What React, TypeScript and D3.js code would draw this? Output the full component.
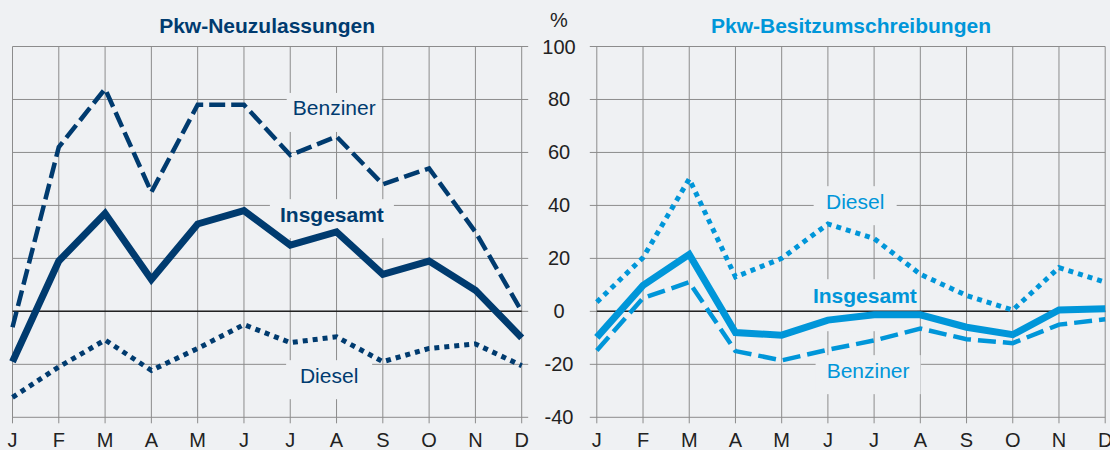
import React from 'react';
import * as d3 from 'd3';

const months = ['J', 'F', 'M', 'A', 'M', 'J', 'J', 'A', 'S', 'O', 'N', 'D'];
const yTicks = [-40, -20, 0, 20, 40, 60, 80, 100];

// Pkw-Neuzulassungen
const neuBenziner = [-6, 62, 84, 45, 78, 78, 59, 66, 48, 54, 30, 0];
const neuInsgesamt = [-19, 19, 37, 12, 33, 38, 25, 30, 14, 19, 8, -10];
const neuDiesel = [-32.5, -21, -10.8, -22.3, -14, -5, -11.8, -9.6, -19, -14, -12.3, -20.5];

// Pkw-Besitzumschreibungen
const besBenziner = [-14.8, 5, 11, -15, -18.5, -14.5, -11, -6.5, -10.5, -12, -5, -3];
const besInsgesamt = [-9.8, 9.8, 21.5, -8, -9, -3.3, -1.3, -1.3, -6, -8.8, 0.5, 1];
const besDiesel = [3.5, 20.3, 50, 13, 20, 33, 27.5, 14, 6, 0.5, 16.5, 11];

const NAVY = '#003b6f';
const CYAN = '#0096d9';
const BG = '#eff1f3';
const GRID = '#8c8c8c';
const FONT = '"Liberation Sans", Arial, Helvetica, sans-serif';

const W = 1110;
const H = 450;
const yTop = 46.5;
const yBottom = 417.3;

const y = d3.scaleLinear().domain([-40, 100]).range([yBottom, yTop]);

type Series = { values: number[]; dash?: string; width: number };
type Label = { text: string; at: [number, number]; bold?: boolean; boxW: number; boxTop?: number; boxBottom?: number };

type PanelProps = {
  x0: number;
  x1: number;
  color: string;
  title: string;
  series: Series[];
  labels: Label[];
  gridLeft: number;
  gridRight: number;
};

const Panel = ({ x0, x1, color, title, series, labels, gridLeft, gridRight }: PanelProps) => {
  const x = d3.scaleLinear().domain([0, 11]).range([x0, x1]);
  const line = d3
    .line<number>()
    .x((_, i) => x(i))
    .y(d => y(d));

  return (
    <g>
      <text
        x={(x0 + x1) / 2}
        y={33}
        textAnchor="middle"
        fontFamily={FONT}
        fontWeight="bold"
        fontSize={21}
        fill={color}
      >
        {title}
      </text>

      {/* Grid */}
      {yTicks.map(t => (
        <line key={'h' + t} x1={x0 - gridLeft} x2={x1 + gridRight} y1={y(t)} y2={y(t)} stroke={GRID} strokeWidth={1} />
      ))}
      {months.map((m, i) => (
        <line key={'v' + i} x1={x(i)} x2={x(i)} y1={y(100)} y2={y(-40) + 6} stroke={GRID} strokeWidth={1} />
      ))}

      {/* label boxes hide the grid */}
      {labels.map(l => {
        const cx = x(l.at[0]);
        const cy = y(l.at[1]);
        const top = cy - (l.boxTop ?? 15);
        const bottom = cy + (l.boxBottom ?? 24);
        return <rect key={'b' + l.text} x={cx - l.boxW / 2} y={top} width={l.boxW} height={bottom - top} fill={BG} />;
      })}

      <line x1={x0} x2={x1} y1={y(0)} y2={y(0)} stroke="#222" strokeWidth={1.5} />

      {series.map((s, i) => (
        <path
          key={i}
          d={line(s.values) || ''}
          fill="none"
          stroke={color}
          strokeWidth={s.width}
          strokeDasharray={s.dash}
          strokeLinejoin="miter"
          strokeLinecap="butt"
        />
      ))}

      {labels.map(l => (
        <text
          key={'t' + l.text}
          x={x(l.at[0])}
          y={y(l.at[1])}
          dy="0.35em"
          textAnchor="middle"
          fontFamily={FONT}
          fontSize={21}
          fontWeight={l.bold ? 'bold' : 'normal'}
          fill={color}
        >
          {l.text}
        </text>
      ))}

      {months.map((m, i) => (
        <text key={'m' + i} x={x(i)} y={447} textAnchor="middle" fontFamily={FONT} fontSize={20} fill="#222">
          {m}
        </text>
      ))}
    </g>
  );
};

export default function App() {
  return (
    <svg width={W} height={H} style={{ position: 'absolute', left: 0, top: 0, background: BG }}>
      <rect width={W} height={H} fill={BG} />
      <Panel
        x0={12.5}
        x1={521.7}
        color={NAVY}
        title="Pkw-Neuzulassungen"
        gridLeft={0}
        gridRight={6.5}
        series={[
          { values: neuBenziner, dash: '16,6', width: 4.5 },
          { values: neuDiesel, dash: '5,5', width: 5 },
          { values: neuInsgesamt, width: 7 },
        ]}
        labels={[
          { text: 'Benziner', at: [6.95, 76.8], boxW: 95 },
          { text: 'Insgesamt', at: [6.9, 36.7], bold: true, boxW: 124 },
          { text: 'Diesel', at: [6.84, -24.1], boxW: 86 },
        ]}
      />
      <Panel
        x0={596.8}
        x1={1105.2}
        color={CYAN}
        title="Pkw-Besitzumschreibungen"
        gridLeft={7}
        gridRight={0}
        series={[
          { values: besBenziner, dash: '18,7', width: 4.5 },
          { values: besDiesel, dash: '5,5', width: 5 },
          { values: besInsgesamt, width: 7 },
        ]}
        labels={[
          { text: 'Diesel', at: [5.59, 41.6], boxW: 83 },
          { text: 'Insgesamt', at: [5.8, 6.1], bold: true, boxW: 105, boxTop: 16, boxBottom: 36 },
          { text: 'Benziner', at: [5.87, -22.2], boxW: 105 },
        ]}
      />

      {/* shared y axis labels */}
      <text x={559} y={27} textAnchor="middle" fontFamily={FONT} fontSize={20} fill="#222">
        %
      </text>
      {yTicks.map(t => (
        <text key={t} x={559} y={y(t)} dy="0.35em" textAnchor="middle" fontFamily={FONT} fontSize={20} fill="#222">
          {t}
        </text>
      ))}
    </svg>
  );
}
